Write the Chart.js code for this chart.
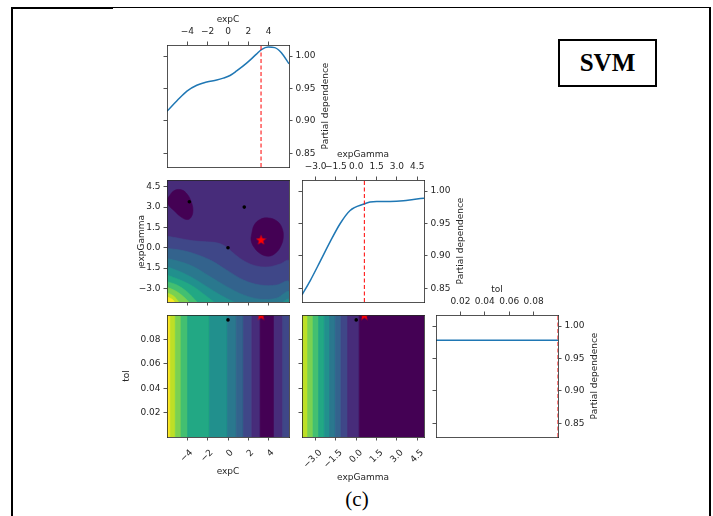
<!DOCTYPE html>
<html>
<head>
<meta charset="utf-8">
<title>SVM partial dependence</title>
<script src="https://cdn.jsdelivr.net/npm/chart.js@4.4.1/dist/chart.umd.min.js"></script>
<style>
  html, body { margin: 0; padding: 0; background: #fff; }
  body { position: relative; width: 713px; height: 516px; overflow: hidden; }
  canvas { position: absolute; }
  .rule { position: absolute; background: #000; }
  #tag {
    position: absolute; left: 558px; top: 39px; width: 95px; height: 44px;
    border: 2px solid #000; font: bold 25px "Liberation Serif", serif;
    display: flex; align-items: center; justify-content: center;
  }
  #caption {
    position: absolute; left: 307px; top: 487px; width: 100px; text-align: center;
    font: 21px "Liberation Serif", serif;
  }
</style>
</head>
<body>
<div class="rule" style="left:11px;top:7px;width:102px;height:2px"></div>
<div class="rule" style="left:112px;top:7px;width:599px;height:1px"></div>
<div class="rule" style="left:11px;top:7px;width:2px;height:509px"></div>
<div class="rule" style="left:709px;top:7px;width:2px;height:509px"></div>
<div id="tag">SVM</div>
<div id="caption">(c)</div>

<canvas id="pdC"></canvas>
<canvas id="cGamma"></canvas>
<canvas id="pdGamma"></canvas>
<canvas id="cTolC"></canvas>
<canvas id="cTolGamma"></canvas>
<canvas id="pdTol"></canvas>

<script>
// axis ranges of the search space
const expCRange = [-6, 6];
const expGammaRange = [-4, 5];
const tolRange = [0, 0.1];
const depRange = [0.829, 1.017];

// tick values
const expCTicks = [-4, -2, 0, 2, 4];
const expGammaTicks = [-3, -1.5, 0, 1.5, 3, 4.5];
const tolTicks = [0.02, 0.04, 0.06, 0.08];
const depTicks = [0.85, 0.9, 0.95, 1.0];

// 1-D partial dependence
const expCGrid = [-6, -5.02, -4.04, -3.07, -2.09, -1.11, -0.46, 0.2, 0.85, 1.83, 2.8, 3.29, 3.95, 4.6, 5.25, 6];
const expCDep = [0.915, 0.931, 0.946, 0.955, 0.960, 0.963, 0.966, 0.970, 0.977, 0.989, 1.003, 1.010, 1.014, 1.013, 1.005, 0.988];
const expGammaGrid = [-4, -3.39, -2.65, -1.92, -1.18, -0.45, 0.58, 1.02, 1.51, 2.5, 3.48, 4.21, 5];
const expGammaDep = [0.840, 0.862, 0.892, 0.922, 0.950, 0.970, 0.980, 0.983, 0.984, 0.984, 0.985, 0.987, 0.989];
const tolGrid = [0, 0.1];
const tolDep = [0.978, 0.978];

// best point and the evaluated samples
const bestExpC = 3.25;
const bestExpGamma = 0.6;
const bestTol = 0.1;
const sampleExpC = [-3.8, 1.6, 0.0];
const sampleExpGamma = [3.4, 3.0, 0.0];
const sampleTol = [null, null, 0.096];

// expC x expGamma contour: two closed top-level islands, then level boundaries
// (each boundary runs left to right; the level fills everything below it)
const islandLeft = [[-5.84, 3.75], [-5.35, 4.19], [-4.69, 4.29], [-4.11, 4.04], [-3.65, 3.45], [-3.45, 2.77],
  [-3.65, 2.23], [-4.04, 2.08], [-4.63, 2.28], [-5.35, 2.77], [-5.84, 3.14], [-6.05, 3.5], [-5.84, 3.75]];
const islandRight = [[2.34, 1.06], [2.57, 1.67], [3.16, 2.09], [3.97, 2.2], [4.8, 1.98], [5.29, 1.5], [5.44, 0.81],
  [5.19, 0.12], [4.63, -0.42], [3.97, -0.62], [3.16, -0.42], [2.57, 0.03], [2.27, 0.56], [2.34, 1.06]];
const gammaLevels = [
  [[-6, 0.86], [-4.7, 0.68], [-3.39, 0.51], [-2.08, 0.44], [-1.1, 0.37], [-0.28, 0.12], [0.38, -0.3], [1.19, -0.79], [2.17, -1.2], [3.16, -1.4], [4.14, -1.4], [5.12, -1.2], [6, -0.96]],
  [[-6, -0.05], [-4.7, -0.17], [-3.39, -0.42], [-1.75, -0.91], [-0.12, -1.65], [1.52, -2.38], [3.16, -2.75], [4.79, -2.75], [6, -2.5]],
  [[-6, -0.79], [-4.7, -1.03], [-3.39, -1.4], [-1.75, -2.14], [-0.12, -2.87], [1.52, -3.48], [3.16, -3.8], [4.79, -3.72], [6, -3.24]],
  [[-6, -1.4], [-4.7, -1.77], [-3.39, -2.26], [-2.08, -2.87], [-0.77, -3.48], [0.54, -3.98], [1.19, -4.15], [3.16, -4.2], [5.12, -4.1], [6, -3.8]],
  [[-6, -2.01], [-4.7, -2.38], [-3.39, -2.87], [-2.41, -3.41], [-1.42, -3.98], [-1.1, -4.15]],
  [[-6, -2.5], [-5.02, -2.75], [-4.04, -3.24], [-3.06, -3.98], [-2.9, -4.15]],
  [[-6, -2.92], [-5.19, -3.17], [-4.37, -3.61], [-3.88, -3.98], [-3.7, -4.15]],
  [[-6, -3.31], [-5.35, -3.56], [-4.86, -3.98], [-4.75, -4.15]],
  [[-6, -3.61], [-5.5, -3.8], [-5.28, -3.98], [-5.2, -4.15]]
];

// tol contours only vary along the other axis: band edges
const expCBandEdges = [-6, -5.68, -5.19, -4.63, -3.98, -1.82, -0.05, 0.8, 1.52, 2.34, 3.16, 4.53, 5.38, 6];
const expGammaBandEdges = [-4, -3.59, -3.19, -2.78, -2.36, -1.97, -1.55, -1.13, -0.64, 0.22, 5];

// colours (viridis steps)
const islandColor = '#440154';
const gammaBackground = '#472c7a';
const gammaLevelColors = ['#3f4788', '#33638d', '#2a788e', '#21908d', '#22a884', '#43bf71', '#7ad151', '#bddf26', '#fde725'];
const expCBandColors = ['#fde725', '#bddf26', '#7ad151', '#43bf71', '#22a884', '#21908d', '#2a788e', '#33638d', '#3f4788', '#472c7a', '#440154', '#472c7a', '#3f4788'];
const expGammaBandColors = ['#bddf26', '#7ad151', '#43bf71', '#22a884', '#21908d', '#2a788e', '#33638d', '#3f4788', '#472c7a', '#440154'];

const AX = 60;          // room kept for every axis band
const INK = '#262626';
const BLUE = '#1f77b4';
const FONT = 'DejaVu Sans';

Chart.defaults.font.family = FONT;

// axis titles drawn next to the plot area (right-hand ones read bottom to top)
const sideTitles = {
  id: 'sideTitles',
  afterDraw(chart, args, opts) {
    const { ctx, chartArea: a } = chart;
    (opts.items || []).forEach(t => {
      let x = (a.left + a.right) / 2, y = (a.top + a.bottom) / 2, rot = 0;
      if (t.side === 'top') y = a.top - t.gap;
      if (t.side === 'bottom') y = a.bottom + t.gap;
      if (t.side === 'left') { x = a.left - t.gap; rot = -Math.PI / 2; }
      if (t.side === 'right') { x = a.right + t.gap; rot = -Math.PI / 2; }
      ctx.save();
      ctx.font = '9px "' + FONT + '"';
      ctx.fillStyle = INK;
      ctx.textAlign = 'center';
      ctx.textBaseline = 'middle';
      ctx.translate(x, y);
      ctx.rotate(rot);
      ctx.fillText(t.text, 0, 0);
      ctx.restore();
    });
  }
};

const fmt = decimals => v => Number(v).toFixed(decimals).replace('-', '\u2212');

function axis(position, range, o = {}) {
  const horizontal = position === 'top' || position === 'bottom';
  return {
    type: 'linear', position, min: range[0], max: range[1], bounds: 'data',
    afterFit: s => { if (horizontal) s.height = AX; else s.width = AX; },
    afterBuildTicks: s => { s.ticks = (o.ticks || []).map(value => ({ value })); },
    border: { display: true, color: INK, width: 0.8, z: 1 },
    grid: { display: !!o.ticks, drawOnChartArea: false, drawTicks: true, tickLength: 3.5, tickColor: INK, tickWidth: 0.8 },
    ticks: {
      display: !!o.labels, autoSkip: false, color: INK, font: { family: FONT, size: 9 },
      padding: o.padding ?? 3,
      minRotation: o.rotate || 0, maxRotation: o.rotate || 0,
      labelOffset: o.labelOffset || 0,
      callback: fmt(o.decimals || 0)
    }
  };
}

function starGlyph(size, color) {
  const c = document.createElement('canvas');
  c.width = c.height = size;
  const g = c.getContext('2d');
  g.fillStyle = color;
  g.beginPath();
  for (let i = 0; i < 10; i++) {
    const r = i % 2 ? size * 0.2 : size * 0.5;
    const a = -Math.PI / 2 + i * Math.PI / 5;
    g.lineTo(size / 2 + r * Math.cos(a), size / 2 + 0.6 + r * Math.sin(a));
  }
  g.closePath();
  g.fill();
  return c;
}
const redStar = starGlyph(11, '#ff0000');

// dataset builders
const toPoints = pts => pts.map(([x, y]) => ({ x, y }));
const region = (pts, color, tension = 0.35) => ({
  data: toPoints(pts), showLine: true, fill: 'shape', tension,
  backgroundColor: color, borderColor: color, borderWidth: 0.6, pointRadius: 0
});
const below = (pts, color, yMin) =>
  region([...pts, [pts[pts.length - 1][0] + 0.5, yMin], [pts[0][0] - 0.5, yMin]], color);
const bands = (edges, colors, yr) => colors.map((c, i) => region([
  [edges[i], yr[0] - 1], [edges[i], yr[1] + 1], [edges[i + 1], yr[1] + 1], [edges[i + 1], yr[0] - 1]
], c, 0));
const curve = (xs, ys) => ({
  data: xs.map((x, i) => ({ x, y: ys[i] })), showLine: true, borderColor: BLUE, borderWidth: 1.5,
  pointRadius: 0, cubicInterpolationMode: 'monotone'
});
const vline = (x, yr) => ({
  data: [{ x, y: yr[0] }, { x, y: yr[1] }], showLine: true, borderColor: '#ff0000',
  borderWidth: 1, borderDash: [4, 2.5], pointRadius: 0
});
const dots = (xs, ys) => ({
  data: xs.map((x, i) => ({ x, y: ys[i] })).filter(p => p.x !== null && p.y !== null),
  pointRadius: 1.8, pointBackgroundColor: '#000', pointBorderWidth: 0
});
const star = (x, y) => ({ data: [{ x, y }], pointStyle: redStar, pointRadius: 5, clip: 0 });

function panel(id, box, xr, yr, axes, datasets, titles) {
  const canvas = document.getElementById(id);
  canvas.width = box.w + 2 * AX;
  canvas.height = box.h + 2 * AX;
  canvas.style.left = (box.x - AX) + 'px';
  canvas.style.top = (box.y - AX) + 'px';
  // painter's order: first dataset at the bottom
  const ds = datasets.map((d, i) => Object.assign({ order: datasets.length - i }, d));
  return new Chart(canvas, {
    type: 'scatter',
    data: { datasets: ds },
    options: {
      responsive: false, animation: false, devicePixelRatio: 1,
      layout: { padding: 0 },
      events: [],
      plugins: { legend: { display: false }, tooltip: { enabled: false }, sideTitles: { items: titles } },
      scales: {
        x: axis('bottom', xr, axes.bottom),
        xTop: axis('top', xr, axes.top),
        y: axis('left', yr, axes.left),
        yRight: axis('right', yr, axes.right)
      }
    },
    plugins: [sideTitles]
  });
}

const col = [167, 302, 436];
const row = [45, 180, 315];
const SIZE = 122;
const box = (r, c) => ({ x: col[c], y: row[r], w: SIZE, h: SIZE });

const depAxisRight = { ticks: depTicks, labels: true, decimals: 2 };
const depAxisLeft = { ticks: depTicks };
const pdTitle = { text: 'Partial dependence', side: 'right', gap: 37 };

// expC partial dependence
panel('pdC', box(0, 0), expCRange, depRange,
  { top: { ticks: expCTicks, labels: true, padding: 4 }, bottom: {}, left: depAxisLeft, right: depAxisRight },
  [curve(expCGrid, expCDep), vline(bestExpC, depRange)],
  [{ text: 'expC', side: 'top', gap: 25 }, pdTitle]);

// expC vs expGamma
panel('cGamma', box(1, 0), expCRange, expGammaRange,
  { top: {}, bottom: { ticks: expCTicks }, left: { ticks: expGammaTicks, labels: true, decimals: 1 }, right: {} },
  [
    region([[-7, -5], [-7, 6], [7, 6], [7, -5]], gammaBackground, 0),
    region(islandLeft, islandColor, 0.4),
    region(islandRight, islandColor, 0.4),
    ...gammaLevels.map((b, i) => below(b, gammaLevelColors[i], -5)),
    dots(sampleExpC, sampleExpGamma),
    star(bestExpC, bestExpGamma)
  ],
  [{ text: 'expGamma', side: 'left', gap: 25 }]);

// expGamma partial dependence
panel('pdGamma', box(1, 1), expGammaRange, depRange,
  { top: { ticks: expGammaTicks, labels: true, decimals: 1, padding: 4 }, bottom: {}, left: depAxisLeft, right: depAxisRight },
  [curve(expGammaGrid, expGammaDep), vline(bestExpGamma, depRange)],
  [{ text: 'expGamma', side: 'top', gap: 25 }, pdTitle]);

// expC vs tol
panel('cTolC', box(2, 0), expCRange, tolRange,
  { top: {}, bottom: { ticks: expCTicks, labels: true, rotate: 45, padding: 7, labelOffset: 4 }, left: { ticks: tolTicks, labels: true, decimals: 2 }, right: {} },
  [...bands(expCBandEdges, expCBandColors, tolRange), dots(sampleExpC, sampleTol), star(bestExpC, bestTol)],
  [{ text: 'tol', side: 'left', gap: 40 }, { text: 'expC', side: 'bottom', gap: 35 }]);

// expGamma vs tol
panel('cTolGamma', box(2, 1), expGammaRange, tolRange,
  { top: {}, bottom: { ticks: expGammaTicks, labels: true, decimals: 1, rotate: 45, padding: 7, labelOffset: 5 }, left: { ticks: tolTicks }, right: {} },
  [...bands(expGammaBandEdges, expGammaBandColors, tolRange), dots(sampleExpGamma, sampleTol), star(bestExpGamma, bestTol)],
  [{ text: 'expGamma', side: 'bottom', gap: 41 }]);

// tol partial dependence
panel('pdTol', box(2, 2), tolRange, depRange,
  { top: { ticks: tolTicks, labels: true, decimals: 2, padding: 4 }, bottom: {}, left: depAxisLeft, right: depAxisRight },
  [curve(tolGrid, tolDep), vline(bestTol, depRange)],
  [{ text: 'tol', side: 'top', gap: 25 }, pdTitle]);
</script>
</body>
</html>
